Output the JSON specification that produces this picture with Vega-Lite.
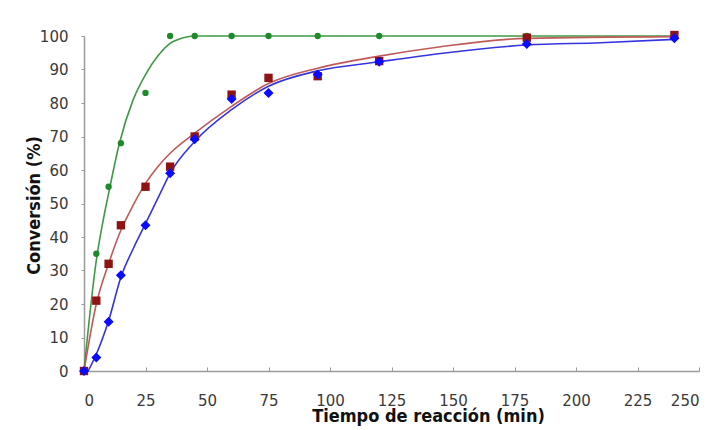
{
  "$schema": "https://vega.github.io/schema/vega-lite/v6.json",
  "width": 615,
  "height": 335,
  "autosize": "none",
  "padding": {"left": 84, "top": 36, "right": 10, "bottom": 59},
  "background": "white",
  "config": {
    "view": {"stroke": null},
    "font": "DejaVu Sans",
    "axis": {"labelOverlap": false, "labelSeparation": 0, "labelBound": false}
  },
  "datasets": {
    "puntos": [
      {"t": 0, "conv": 0, "serie": "Serie 1"},
      {"t": 5, "conv": 35, "serie": "Serie 1"},
      {"t": 10, "conv": 55, "serie": "Serie 1"},
      {"t": 15, "conv": 68, "serie": "Serie 1"},
      {"t": 25, "conv": 83, "serie": "Serie 1"},
      {"t": 35, "conv": 100, "serie": "Serie 1"},
      {"t": 45, "conv": 100, "serie": "Serie 1"},
      {"t": 60, "conv": 100, "serie": "Serie 1"},
      {"t": 75, "conv": 100, "serie": "Serie 1"},
      {"t": 95, "conv": 100, "serie": "Serie 1"},
      {"t": 120, "conv": 100, "serie": "Serie 1"},
      {"t": 180, "conv": 100, "serie": "Serie 1"},
      {"t": 240, "conv": 100, "serie": "Serie 1"},
      {"t": 0, "conv": 0, "serie": "Serie 2"},
      {"t": 5, "conv": 21, "serie": "Serie 2"},
      {"t": 10, "conv": 32, "serie": "Serie 2"},
      {"t": 15, "conv": 43.5, "serie": "Serie 2"},
      {"t": 25, "conv": 55, "serie": "Serie 2"},
      {"t": 35, "conv": 61, "serie": "Serie 2"},
      {"t": 45, "conv": 70, "serie": "Serie 2"},
      {"t": 60, "conv": 82.5, "serie": "Serie 2"},
      {"t": 75, "conv": 87.5, "serie": "Serie 2"},
      {"t": 95, "conv": 88, "serie": "Serie 2"},
      {"t": 120, "conv": 92.5, "serie": "Serie 2"},
      {"t": 180, "conv": 99.5, "serie": "Serie 2"},
      {"t": 240, "conv": 100.3, "serie": "Serie 2"},
      {"t": 0, "conv": 0, "serie": "Serie 3"},
      {"t": 5, "conv": 4, "serie": "Serie 3"},
      {"t": 10, "conv": 14.7, "serie": "Serie 3"},
      {"t": 15, "conv": 28.6, "serie": "Serie 3"},
      {"t": 25, "conv": 43.5, "serie": "Serie 3"},
      {"t": 35, "conv": 59, "serie": "Serie 3"},
      {"t": 45, "conv": 69.2, "serie": "Serie 3"},
      {"t": 60, "conv": 81.2, "serie": "Serie 3"},
      {"t": 75, "conv": 83, "serie": "Serie 3"},
      {"t": 95, "conv": 88.5, "serie": "Serie 3"},
      {"t": 120, "conv": 92.3, "serie": "Serie 3"},
      {"t": 180, "conv": 97.6, "serie": "Serie 3"},
      {"t": 240, "conv": 99.3, "serie": "Serie 3"}
    ],
    "ajuste": [
      {"t": 0, "conv": 0, "serie": "Serie 1"},
      {"t": 5, "conv": 33, "serie": "Serie 1"},
      {"t": 7.8, "conv": 45, "serie": "Serie 1"},
      {"t": 10, "conv": 53, "serie": "Serie 1"},
      {"t": 14.4, "conv": 68, "serie": "Serie 1"},
      {"t": 20, "conv": 81, "serie": "Serie 1"},
      {"t": 25, "conv": 88.5, "serie": "Serie 1"},
      {"t": 30, "conv": 94, "serie": "Serie 1"},
      {"t": 35, "conv": 97.8, "serie": "Serie 1"},
      {"t": 40, "conv": 99.4, "serie": "Serie 1"},
      {"t": 45, "conv": 100, "serie": "Serie 1"},
      {"t": 100, "conv": 100, "serie": "Serie 1"},
      {"t": 180, "conv": 100, "serie": "Serie 1"},
      {"t": 240, "conv": 100, "serie": "Serie 1"},
      {"t": 0, "conv": 0, "serie": "Serie 2"},
      {"t": 5, "conv": 20, "serie": "Serie 2"},
      {"t": 10, "conv": 32, "serie": "Serie 2"},
      {"t": 15, "conv": 42, "serie": "Serie 2"},
      {"t": 20, "conv": 49.5, "serie": "Serie 2"},
      {"t": 25, "conv": 56, "serie": "Serie 2"},
      {"t": 30, "conv": 61, "serie": "Serie 2"},
      {"t": 35, "conv": 65, "serie": "Serie 2"},
      {"t": 45, "conv": 71, "serie": "Serie 2"},
      {"t": 60, "conv": 79, "serie": "Serie 2"},
      {"t": 75, "conv": 85.8, "serie": "Serie 2"},
      {"t": 95, "conv": 90.4, "serie": "Serie 2"},
      {"t": 120, "conv": 94, "serie": "Serie 2"},
      {"t": 145, "conv": 96.8, "serie": "Serie 2"},
      {"t": 180, "conv": 99.3, "serie": "Serie 2"},
      {"t": 240, "conv": 99.8, "serie": "Serie 2"},
      {"t": 1.7, "conv": 0, "serie": "Serie 3"},
      {"t": 5, "conv": 5, "serie": "Serie 3"},
      {"t": 10, "conv": 15, "serie": "Serie 3"},
      {"t": 15, "conv": 28, "serie": "Serie 3"},
      {"t": 20, "conv": 36.5, "serie": "Serie 3"},
      {"t": 25, "conv": 44, "serie": "Serie 3"},
      {"t": 30, "conv": 51.5, "serie": "Serie 3"},
      {"t": 35, "conv": 59, "serie": "Serie 3"},
      {"t": 45, "conv": 68.5, "serie": "Serie 3"},
      {"t": 60, "conv": 78, "serie": "Serie 3"},
      {"t": 75, "conv": 85, "serie": "Serie 3"},
      {"t": 95, "conv": 89.6, "serie": "Serie 3"},
      {"t": 120, "conv": 92.3, "serie": "Serie 3"},
      {"t": 145, "conv": 94.8, "serie": "Serie 3"},
      {"t": 180, "conv": 97.3, "serie": "Serie 3"},
      {"t": 210, "conv": 98, "serie": "Serie 3"},
      {"t": 240, "conv": 99, "serie": "Serie 3"}
    ]
  },
  "encoding": {
    "x": {
      "field": "t",
      "type": "quantitative",
      "scale": {"domain": [0, 250], "nice": false, "zero": false},
      "axis": {
        "values": [0, 25, 50, 75, 100, 125, 150, 175, 200, 225, 250],
        "grid": false,
        "labelOverlap": false,
        "domainColor": "#9a9a9a",
        "domainWidth": 1.5,
        "tickColor": "#9a9a9a",
        "tickSize": -4,
        "labelFontSize": 15,
        "labelColor": "#3a3a3a",
        "labelPadding": 26,
        "labelFont": "DejaVu Sans",
        "title": "Tiempo de reacción (min)",
        "titleFont": "DejaVu Sans Condensed",
        "titleFontSize": 18,
        "titleFontWeight": "bold",
        "titleColor": "#111111",
        "titleX": 344,
        "titleY": 50,
        "titleAlign": "center",
        "titleBaseline": "alphabetic",
        "titleAnchor": null
      }
    },
    "y": {
      "field": "conv",
      "type": "quantitative",
      "scale": {"domain": [0, 100], "nice": false},
      "axis": {
        "values": [0, 10, 20, 30, 40, 50, 60, 70, 80, 90, 100],
        "grid": false,
        "labelOverlap": false,
        "domainColor": "#9a9a9a",
        "domainWidth": 1.5,
        "tickColor": "#9a9a9a",
        "tickSize": 3,
        "labelFontSize": 15,
        "labelColor": "#3a3a3a",
        "labelPadding": 13,
        "labelFont": "DejaVu Sans",
        "title": "Conversión (%)",
        "titleFont": "DejaVu Sans Condensed",
        "titleFontSize": 18,
        "titleFontWeight": "bold",
        "titleColor": "#111111",
        "titleAngle": -90,
        "titleX": -45,
        "titleY": 169,
        "titleAlign": "center",
        "titleBaseline": "alphabetic",
        "titleAnchor": null
      }
    }
  },
  "layer": [
    {
      "data": {"name": "ajuste"},
      "mark": {"type": "line", "interpolate": "monotone", "strokeWidth": 1.6},
      "encoding": {
        "color": {
          "field": "serie",
          "type": "nominal",
          "scale": {"domain": ["Serie 1", "Serie 2", "Serie 3"], "range": ["#3f9a45", "#c05a58", "#3535e0"]},
          "legend": null
        },
        "order": {"field": "t", "type": "quantitative"}
      }
    },
    {
      "data": {"name": "puntos"},
      "mark": {"type": "point", "filled": true, "opacity": 1},
      "encoding": {
        "color": {
          "field": "serie",
          "type": "nominal",
          "scale": {"domain": ["Serie 1", "Serie 2", "Serie 3"], "range": ["#1e8a2a", "#8e1414", "#0a0aff"]},
          "legend": null
        },
        "shape": {
          "field": "serie",
          "type": "nominal",
          "scale": {"domain": ["Serie 1", "Serie 2", "Serie 3"], "range": ["circle", "square", "diamond"]},
          "legend": null
        },
        "size": {
          "field": "serie",
          "type": "nominal",
          "scale": {"domain": ["Serie 1", "Serie 2", "Serie 3"], "range": [40, 100, 110]},
          "legend": null
        }
      }
    }
  ],
  "resolve": {"scale": {"color": "independent"}}
}
